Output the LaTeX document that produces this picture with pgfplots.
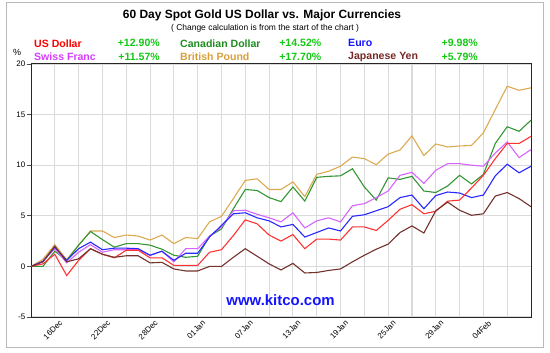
\documentclass[border=0pt]{standalone}
\usepackage{fontspec}
\setmainfont{Liberation Sans}
\usepackage{pgfplots}
\usepackage{pgfplotstable}
\pgfplotsset{compat=1.18}
\definecolor{cUSD}{RGB}{255,50,50}
\definecolor{cCAD}{RGB}{50,150,50}
\definecolor{cEUR}{RGB}{40,40,255}
\definecolor{cCHF}{RGB}{215,100,255}
\definecolor{cGBP}{RGB}{220,170,80}
\definecolor{cJPY}{RGB}{115,50,45}
\definecolor{tUSD}{RGB}{255,0,0}
\definecolor{tCAD}{RGB}{30,140,30}
\definecolor{tEUR}{RGB}{20,20,255}
\definecolor{tCHF}{RGB}{215,60,255}
\definecolor{tGBP}{RGB}{215,160,60}
\definecolor{tJPY}{RGB}{120,40,40}
\definecolor{tPCT}{RGB}{20,200,20}
\definecolor{gridc}{RGB}{218,218,218}
\pgfplotstableread{
i usd cad eur chf gbp jpy
0 0 0 0 0 0 0
1 0.25 0 0.5 0.5 0.7 0.45
2 1.2 1.5 1.9 1.75 2.15 2.0
3 -0.9 0.6 0.6 0.35 0.65 0.45
4 0.6 2.1 1.75 1.4 2.1 0.75
5 1.75 3.45 2.4 2.15 3.5 1.75
6 1.2 2.65 1.65 1.4 3.5 1.2
7 0.85 1.9 1.8 1.65 2.85 0.9
8 1.6 2.25 1.8 1.65 3.1 1.05
9 1.6 2.25 1.75 1.65 3.0 1.05
10 0.85 2.1 1.1 1.1 2.6 0.35
11 0.85 1.7 1.5 1.5 3.1 0.4
12 0.1 1.1 0.6 0.45 2.25 -0.25
13 0.1 0.9 1.3 1.75 2.85 -0.45
14 0.1 1.0 1.3 1.75 2.75 -0.45
15 1.4 3.0 2.9 3.0 4.4 0.0
16 1.65 3.7 4.05 3.9 4.95 0.0
17 3.05 5.7 5.2 5.5 6.7 0.9
18 4.6 7.6 5.3 5.55 8.5 1.75
19 4.2 7.5 4.8 5.15 8.65 1.0
20 3.1 6.8 4.5 4.8 7.6 0.25
21 2.5 6.4 3.9 4.4 7.6 -0.35
22 3.15 7.85 4.15 5.3 8.35 0.3
23 1.75 6.45 2.9 3.8 6.9 -0.65
24 2.7 8.8 3.35 4.5 9.1 -0.6
25 2.7 8.9 3.8 4.8 9.4 -0.4
26 2.6 8.95 3.5 4.4 9.9 -0.25
27 3.9 9.65 4.95 6.0 10.8 0.45
28 3.9 7.85 5.1 6.2 10.65 1.1
29 3.55 6.55 5.5 6.8 10.05 1.7
30 4.55 8.75 5.9 7.45 11.1 2.2
31 5.65 8.6 6.8 9.0 11.5 3.35
32 6.1 8.9 7.05 9.3 12.9 4.0
33 5.2 7.45 5.7 8.2 10.95 3.3
34 5.45 7.3 7.0 9.5 12.1 5.5
35 6.45 7.95 7.35 10.15 11.8 6.35
36 6.55 9.0 7.25 10.15 11.9 5.55
37 7.75 8.15 6.8 10.0 11.95 5.05
38 9.0 9.1 7.05 9.9 13.2 5.2
39 10.65 12.15 8.95 11.2 15.5 6.95
40 12.15 13.8 10.1 12.3 17.8 7.3
41 12.15 13.35 9.25 10.75 17.4 6.7
42 12.85 14.45 9.9 11.55 17.65 5.9
}\gold
\begin{document}
\begin{tikzpicture}[x=1bp,y=1bp]
\path[use as bounding box] (0,0) rectangle (550,352);
\draw[gray!55, line width=1bp] (6,5) rectangle (543,349);
\begin{axis}[
  at={(31bp,35bp)}, anchor=south west,
  scale only axis, width=500bp, height=253bp,
  xmin=0, xmax=42, ymin=-5, ymax=20,
  xtick={2,6,10,14,18,22,26,30,34,38},
  xticklabels={16Dec,22Dec,28Dec,01Jan,07Jan,13Jan,19Jan,25Jan,29Jan,04Feb},
  minor xtick={4,8,12,16,20,24,28,32,36,40},
  ytick={-5,0,5,10,15,20},
  grid=both,
  grid style={draw=gridc, line width=1.1bp},
  minor grid style={draw=gridc, line width=1.1bp},
  axis line style={draw=black!85, line width=1bp},
  tick align=outside, major tick length=4bp, minor tick length=0bp,
  ytick style={draw=black!70, line width=0.8bp},
  xtick style={draw=none},
  xtick pos=bottom, ytick pos=left,
  tick label style={font=\fontsize{8}{9}\selectfont},
  /pgf/number format/assume math mode=true,
  yticklabel style={inner sep=1.5bp},
  xticklabel style={rotate=45, anchor=north east, inner sep=1bp, xshift=5bp, yshift=-1bp},
  clip=false,
]
\addplot[cGBP, line width=1.1bp] table[x=i,y=gbp] {\gold};
\addplot[cCAD, line width=1.1bp] table[x=i,y=cad] {\gold};
\addplot[cCHF, line width=1.1bp] table[x=i,y=chf] {\gold};
\addplot[cEUR, line width=1.1bp] table[x=i,y=eur] {\gold};
\addplot[cUSD, line width=1.1bp] table[x=i,y=usd] {\gold};
\addplot[cJPY, line width=1.1bp] table[x=i,y=jpy] {\gold};
\node[anchor=west, text=tEUR, font=\bfseries\fontsize{15}{17}\selectfont, inner sep=0] at (axis cs:16.4,-3.3) {www.kitco.com};
\end{axis}
\node[font=\bfseries\fontsize{12}{14}\selectfont] at (262,337) {60 Day Spot Gold US Dollar vs. Major Currencies};
\node[font=\fontsize{8.5}{10}\selectfont] at (265,323.5) {( Change calculation is from the start of the chart )};
\begin{scope}[every node/.style={font=\bfseries\fontsize{10.6}{12}\selectfont, inner sep=0}]
\node[anchor=west, text=tUSD] at (34,308.7) {US Dollar};
\node[anchor=east, text=tPCT] at (160,308.7) {+12.90\%};
\node[anchor=west, text=tCAD] at (180,308.7) {Canadian Dollar};
\node[anchor=east, text=tPCT] at (321.5,308.7) {+14.52\%};
\node[anchor=west, text=tEUR] at (348,308.7) {Euro};
\node[anchor=east, text=tPCT] at (478,308.7) {+9.98\%};
\node[anchor=west, text=tCHF] at (34,295.3) {Swiss Franc};
\node[anchor=east, text=tPCT] at (160,295.3) {+11.57\%};
\node[anchor=west, text=tGBP] at (180,295.3) {British Pound};
\node[anchor=east, text=tPCT] at (321.5,295.3) {+17.70\%};
\node[anchor=west, text=tJPY] at (348,295.3) {Japanese Yen};
\node[anchor=east, text=tPCT] at (478,295.3) {+5.79\%};
\end{scope}
\node[font=\fontsize{9}{10}\selectfont] at (17,300) {\%};
\end{tikzpicture}
\end{document}
